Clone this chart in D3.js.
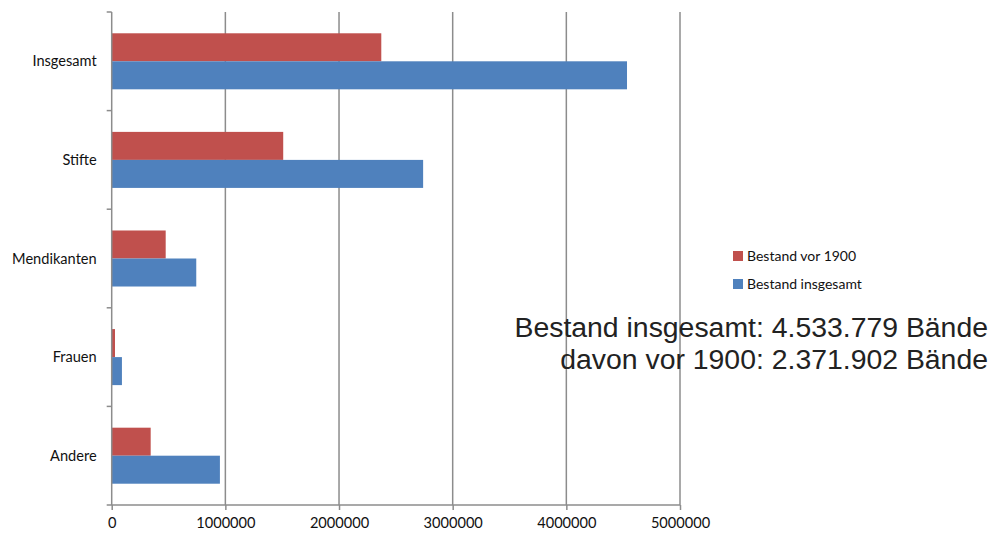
<!DOCTYPE html>
<html>
<head>
<meta charset="utf-8">
<script src="https://cdn.jsdelivr.net/npm/d3@7"></script>
<style>
  body { margin: 0; background: #fff; }
  svg { display: block; }
  .grid line { stroke: #8c8c8c; stroke-width: 1.5; }
  .axis path, .axis line { stroke: #8c8c8c; stroke-width: 1.5; }
  .axis text { font-family: Lato, "Open Sans", sans-serif; font-size: 14.6px; fill: #111; }
  .legend text { font-family: Lato, "Open Sans", sans-serif; font-size: 14px; fill: #111; }
  .summary { font-family: "Liberation Sans", Arial, sans-serif; font-size: 28.4px; fill: #222; }
</style>
</head>
<body>
<script>
//chart values
var categories = ["Insgesamt", "Stifte", "Mendikanten", "Frauen", "Andere"];
var seriesNames = ["Bestand vor 1900", "Bestand insgesamt"];
var vor1900 = [2371902, 1509000, 475000, 29000, 343000];
var insgesamt = [4533779, 2740000, 744000, 90000, 952000];
var xTicks = [0, 1000000, 2000000, 3000000, 4000000, 5000000];
var summaryLines = ["Bestand insgesamt: 4.533.779 Bände", "davon vor 1900: 2.371.902 Bände"];

var colors = ["#c0504d", "#4f81bd"];

//build rows for the grouped bars
var rows = categories.map(function(c, i){
    return { cat: c, values: [vor1900[i], insgesamt[i]] };
});

var width = 995,
    height = 534;

var svg = d3.select("body")
    .append("svg")
    .attr("width", width)
    .attr("height", height);

//plot frame
var plotLeft = 111.7, plotRight = 680, plotTop = 12, plotBottom = 505;

var x = d3.scaleLinear()
    .domain([0, 5000000])
    .range([plotLeft, plotRight]);

var y = d3.scaleBand()
    .domain(categories)
    .range([plotTop, plotBottom]);

var inner = d3.scaleBand()
    .domain([0, 1])
    .range([0, y.bandwidth()])
    .paddingOuter(0.76);

//vertical gridlines
svg.append("g")
    .attr("class", "grid")
    .selectAll("line")
    .data(xTicks.slice(1))
    .enter()
    .append("line")
    .attr("x1", function(d){ return x(d); })
    .attr("x2", function(d){ return x(d); })
    .attr("y1", plotTop)
    .attr("y2", plotBottom);

//bars
var groups = svg.selectAll(".cat")
    .data(rows)
    .enter()
    .append("g")
    .attr("class", "cat")
    .attr("transform", function(d){ return "translate(0," + y(d.cat) + ")"; });

groups.selectAll("rect")
    .data(function(d){ return d.values; })
    .enter()
    .append("rect")
    .attr("x", x(0))
    .attr("y", function(d, i){ return inner(i); })
    .attr("width", function(d){ return x(d) - x(0); })
    .attr("height", inner.bandwidth())
    .attr("fill", function(d, i){ return colors[i]; });

//x axis
var xAxis = svg.append("g")
    .attr("class", "axis")
    .attr("transform", "translate(0," + plotBottom + ")")
    .call(d3.axisBottom(x).tickValues(xTicks).tickFormat(d3.format("d")).tickSize(5).tickSizeOuter(0));
xAxis.select(".domain").attr("d", "M" + (plotLeft - 5) + ",0H" + plotRight);
xAxis.selectAll("text").attr("y", 10).attr("dy", "0.9em");

//y axis: ticks sit on the band edges
var yAxis = svg.append("g")
    .attr("class", "axis")
    .attr("transform", "translate(" + plotLeft + ",0)");
yAxis.append("line")
    .attr("y1", plotTop)
    .attr("y2", plotBottom);
yAxis.selectAll(".edge")
    .data(categories)
    .enter()
    .append("line")
    .attr("class", "edge")
    .attr("x1", -5)
    .attr("x2", 0)
    .attr("y1", function(d){ return y(d); })
    .attr("y2", function(d){ return y(d); });
yAxis.selectAll(".lab")
    .data(categories)
    .enter()
    .append("text")
    .attr("class", "lab")
    .attr("x", -15)
    .attr("y", function(d){ return y(d) + y.bandwidth() / 2; })
    .attr("dy", "0.35em")
    .attr("text-anchor", "end")
    .text(function(d){ return d; });

//legend
var legend = svg.append("g")
    .attr("class", "legend")
    .attr("transform", "translate(733,251)");
var items = legend.selectAll("g")
    .data(seriesNames)
    .enter()
    .append("g")
    .attr("transform", function(d, i){ return "translate(0," + (i * 28) + ")"; });
items.append("rect")
    .attr("width", 10)
    .attr("height", 10)
    .attr("fill", function(d, i){ return colors[i]; });
items.append("text")
    .attr("x", 14)
    .attr("y", 5)
    .attr("dy", "0.35em")
    .text(function(d){ return d; });

//summary text
svg.selectAll(".summary")
    .data(summaryLines)
    .enter()
    .append("text")
    .attr("class", "summary")
    .attr("x", 988)
    .attr("y", function(d, i){ return 337 + i * 31.5; })
    .attr("text-anchor", "end")
    .text(function(d){ return d; });
</script>
</body>
</html>
